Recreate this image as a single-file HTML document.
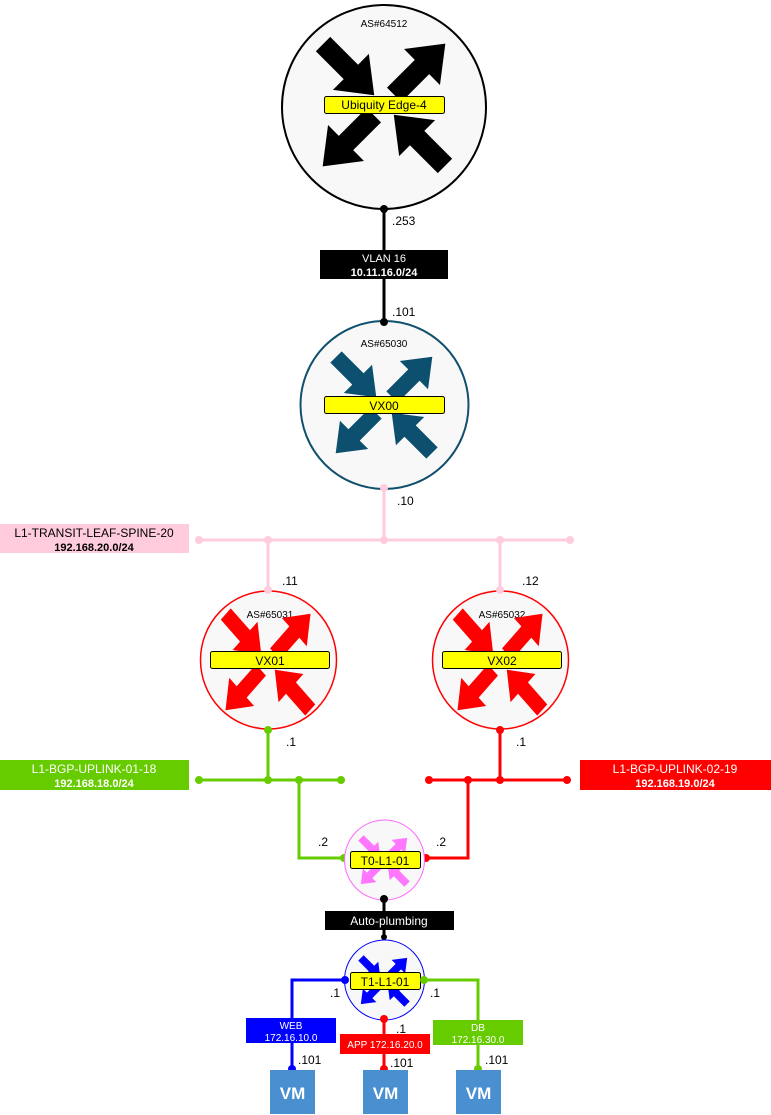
<!DOCTYPE html>
<html><head><meta charset="utf-8"><style>
html,body{margin:0;padding:0;background:#fff;}
svg{display:block;font-family:"Liberation Sans",Arial,sans-serif;}
</style></head><body>
<svg width="771" height="1115" viewBox="0 0 771 1115" xmlns="http://www.w3.org/2000/svg">
<defs>
<g id="arr"><polygon points="0,-8 31,-8 31,-20 57,0 31,20 31,8 0,8"/></g>
<g id="router">
<use href="#arr" transform="translate(-48,-48) rotate(45)"/>
<use href="#arr" transform="translate(8,-8) rotate(-45)"/>
<use href="#arr" transform="translate(-8,8) rotate(135)"/>
<use href="#arr" transform="translate(48,48) rotate(225)"/>
</g>
</defs>

<!-- Top router -->
<line x1="384" y1="209" x2="384" y2="322" stroke="#000" stroke-width="3"/>
<circle cx="384" cy="107" r="102" fill="#f8f8f8" stroke="#000" stroke-width="2"/>
<text x="384" y="27" font-size="10" text-anchor="middle">AS#64512</text>
<g fill="#000" transform="translate(384,105) scale(1.27)"><use href="#router"/></g>
<rect x="324.5" y="96.5" width="120" height="17" rx="2" fill="#ffff00" stroke="#000"/>
<text x="384" y="109" font-size="12" text-anchor="middle">Ubiquity Edge-4</text>
<circle cx="384" cy="209" r="4" fill="#000"/>
<text x="392" y="225" font-size="12">.253</text>
<rect x="320" y="250" width="128" height="29" fill="#000"/>
<text x="384" y="262" font-size="11" fill="#fff" text-anchor="middle">VLAN 16</text>
<text x="384" y="276" font-size="11" fill="#fff" font-weight="bold" text-anchor="middle">10.11.16.0/24</text>
<text x="392" y="316" font-size="12">.101</text>

<!-- VX00 -->
<line x1="384" y1="488" x2="384" y2="540" stroke="#ffccdd" stroke-width="3"/>
<circle cx="384.5" cy="405" r="84" fill="#f8f8f8" stroke="#10506e" stroke-width="2"/>
<circle cx="384" cy="322" r="4" fill="#000"/>
<text x="384" y="347" font-size="10" text-anchor="middle">AS#65030</text>
<g fill="#0d4f6e" transform="translate(384,405) scale(1.0)"><use href="#router"/></g>
<rect x="324.5" y="396.5" width="120" height="17" rx="2" fill="#ffff00" stroke="#000"/>
<text x="384" y="410" font-size="12" text-anchor="middle">VX00</text>
<circle cx="384" cy="488" r="4" fill="#ffccdd"/>
<text x="397" y="505" font-size="12">.10</text>

<!-- Pink bus -->
<line x1="199" y1="540" x2="570" y2="540" stroke="#ffccdd" stroke-width="3"/>
<line x1="268" y1="540" x2="268" y2="590" stroke="#ffccdd" stroke-width="3"/>
<line x1="500" y1="540" x2="500" y2="590" stroke="#ffccdd" stroke-width="3"/>
<g fill="#ffccdd"><circle cx="199" cy="540" r="4"/><circle cx="268" cy="540" r="4"/><circle cx="384" cy="540" r="4"/><circle cx="500" cy="540" r="4"/><circle cx="570" cy="540" r="4"/></g>
<rect x="0" y="524" width="189" height="29" fill="#ffccdd"/>
<text x="94" y="537" font-size="12" text-anchor="middle">L1-TRANSIT-LEAF-SPINE-20</text>
<text x="94" y="551" font-size="11" font-weight="bold" text-anchor="middle">192.168.20.0/24</text>
<text x="282" y="585" font-size="12">.11</text>
<text x="522" y="585" font-size="12">.12</text>

<!-- VX01 / VX02 -->
<g>
<ellipse cx="268.5" cy="660" rx="68" ry="69" fill="#f8f8f8" stroke="#ff0000" stroke-width="1.5"/>
<circle cx="268" cy="590" r="4" fill="#ffccdd"/>
<text x="270" y="618" font-size="10" text-anchor="middle">AS#65031</text>
<g fill="#ff0000" transform="translate(268,662) scale(0.88,1.0)"><use href="#router"/></g>
<rect x="210.5" y="651.5" width="119" height="17" rx="2" fill="#ffff00" stroke="#000"/>
<text x="270" y="665" font-size="12" text-anchor="middle">VX01</text>
<circle cx="268" cy="730" r="4" fill="#66cc00"/>
</g>
<g>
<ellipse cx="500.5" cy="660" rx="68" ry="69" fill="#f8f8f8" stroke="#ff0000" stroke-width="1.5"/>
<circle cx="500" cy="590" r="4" fill="#ffccdd"/>
<text x="502" y="618" font-size="10" text-anchor="middle">AS#65032</text>
<g fill="#ff0000" transform="translate(500,662) scale(0.88,1.0)"><use href="#router"/></g>
<rect x="442.5" y="651.5" width="119" height="17" rx="2" fill="#ffff00" stroke="#000"/>
<text x="502" y="665" font-size="12" text-anchor="middle">VX02</text>
<circle cx="500" cy="730" r="4" fill="#ff0000"/>
</g>
<text x="286" y="746" font-size="12">.1</text>
<text x="516" y="746" font-size="12">.1</text>

<!-- Green bus -->
<g stroke="#66cc00" stroke-width="3" fill="none">
<line x1="268" y1="730" x2="268" y2="780"/>
<line x1="199" y1="780" x2="341" y2="780"/>
<polyline points="299,780 299,858 345,858"/>
</g>
<g fill="#66cc00"><circle cx="199" cy="780" r="4"/><circle cx="268" cy="780" r="4"/><circle cx="299" cy="780" r="4"/><circle cx="341" cy="780" r="4"/><circle cx="344" cy="858" r="4"/></g>
<rect x="0" y="760" width="189" height="30" fill="#66cc00"/>
<text x="94" y="773" font-size="12" fill="#fff" text-anchor="middle">L1-BGP-UPLINK-01-18</text>
<text x="94" y="787" font-size="11" fill="#fff" font-weight="bold" text-anchor="middle">192.168.18.0/24</text>

<!-- Red bus -->
<g stroke="#ff0000" stroke-width="3" fill="none">
<line x1="500" y1="730" x2="500" y2="780"/>
<line x1="429" y1="780" x2="567" y2="780"/>
<polyline points="468,780 468,858 425,858"/>
</g>
<g fill="#ff0000"><circle cx="429" cy="780" r="4"/><circle cx="468" cy="780" r="4"/><circle cx="500" cy="780" r="4"/><circle cx="567" cy="780" r="4"/><circle cx="426" cy="858" r="4"/></g>
<rect x="580" y="760" width="191" height="30" fill="#ff0000"/>
<text x="675" y="773" font-size="12" fill="#fff" text-anchor="middle">L1-BGP-UPLINK-02-19</text>
<text x="675" y="787" font-size="11" fill="#fff" font-weight="bold" text-anchor="middle">192.168.19.0/24</text>
<text x="318" y="846" font-size="12">.2</text>
<text x="436" y="846" font-size="12">.2</text>

<!-- T0 -->
<circle cx="384.5" cy="860" r="40" fill="#f8f8f8" stroke="#ff66ff" stroke-width="1"/>
<g fill="#ff77ff" transform="translate(384,861) scale(0.48)"><use href="#router"/></g>
<rect x="350.5" y="851.5" width="70" height="17" rx="2" fill="#ffff00" stroke="#000"/>
<text x="385" y="865" font-size="12" text-anchor="middle">T0-L1-01</text>

<!-- Auto-plumbing -->
<line x1="384" y1="899" x2="384" y2="940" stroke="#000" stroke-width="3"/>
<circle cx="384" cy="899" r="4" fill="#000"/>
<circle cx="384" cy="937" r="3" fill="#000"/>
<rect x="325" y="911" width="129" height="19" fill="#000"/>
<text x="389" y="925" font-size="12" fill="#fff" text-anchor="middle">Auto-plumbing</text>

<!-- T1 links -->
<g stroke="#0000ff" stroke-width="3" fill="none"><polyline points="345,980 292,980 292,1068"/></g>
<g stroke="#ff0000" stroke-width="3" fill="none"><line x1="384" y1="1019" x2="384" y2="1070"/></g>
<g stroke="#66cc00" stroke-width="3" fill="none"><polyline points="424,980 478,980 478,1068"/></g>

<!-- T1 -->
<circle cx="384.5" cy="980" r="40" fill="#f8f8f8" stroke="#0000ff" stroke-width="1"/>
<g fill="#0000ff" transform="translate(384,981) scale(0.48)"><use href="#router"/></g>
<rect x="350.5" y="972.5" width="70" height="17" rx="2" fill="#ffff00" stroke="#000"/>
<text x="385" y="986" font-size="12" text-anchor="middle">T1-L1-01</text>
<circle cx="345" cy="980" r="4" fill="#0000ff"/>
<circle cx="424" cy="980" r="4" fill="#66cc00"/>
<circle cx="384" cy="1019" r="4" fill="#ff0000"/>
<text x="330" y="997" font-size="12">.1</text>
<text x="430" y="997" font-size="12">.1</text>
<text x="396" y="1033" font-size="12">.1</text>

<!-- Labels -->
<rect x="246" y="1018" width="90" height="25" fill="#0000ff"/>
<text x="291" y="1029" font-size="10" fill="#fff" text-anchor="middle">WEB</text>
<text x="291" y="1041" font-size="10" fill="#fff" text-anchor="middle">172.16.10.0</text>
<rect x="340" y="1034" width="90" height="20" fill="#ff0000"/>
<text x="385" y="1048" font-size="10" fill="#fff" text-anchor="middle">APP 172.16.20.0</text>
<rect x="433" y="1020" width="90" height="25" fill="#66cc00"/>
<text x="478" y="1031" font-size="10" fill="#fff" text-anchor="middle">DB</text>
<text x="478" y="1043" font-size="10" fill="#fff" text-anchor="middle">172.16.30.0</text>

<text x="298" y="1064" font-size="12">.101</text>
<text x="390" y="1067" font-size="12">.101</text>
<text x="485" y="1064" font-size="12">.101</text>

<circle cx="292" cy="1069" r="4" fill="#0000ff"/>
<circle cx="384" cy="1069" r="4" fill="#ff0000"/>
<circle cx="478" cy="1069" r="4" fill="#66cc00"/>

<!-- VMs -->
<g fill="#4a90d0">
<rect x="270" y="1070" width="45" height="44"/>
<rect x="363" y="1070" width="45" height="44"/>
<rect x="456" y="1070" width="45" height="44"/>
</g>
<g font-size="17" font-weight="bold" fill="#fff" text-anchor="middle">
<text x="292.5" y="1099">VM</text>
<text x="385.5" y="1099">VM</text>
<text x="478.5" y="1099">VM</text>
</g>
</svg>
</body></html>
